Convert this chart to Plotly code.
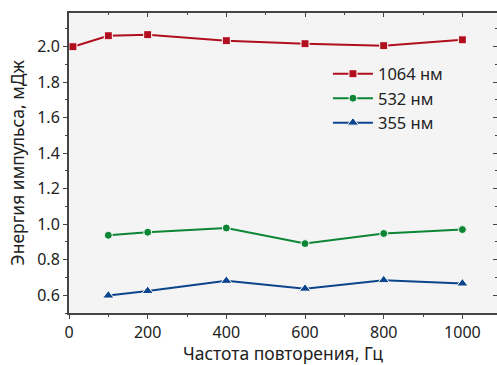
import plotly.graph_objects as go

freq_1064 = [10, 100, 200, 400, 600, 800, 1000]
energy_1064 = [2.000, 2.062, 2.068, 2.034, 2.017, 2.006, 2.039]
freq_532 = [100, 200, 400, 600, 800, 1000]
energy_532 = [0.938, 0.955, 0.979, 0.891, 0.948, 0.970]
freq_355 = [100, 200, 400, 600, 800, 1000]
energy_355 = [0.598, 0.624, 0.681, 0.637, 0.685, 0.666]

series = [
    ("1064 нм", freq_1064, energy_1064, "#B10F1E", "square", 8),
    ("532 нм", freq_532, energy_532, "#0C8535", "circle", 8),
    ("355 нм", freq_355, energy_355, "#0D458C", "triangle-up", 10),
]

FONT = "Noto Sans"
XR = [0, 1088]
YR = [0.5, 2.19]

fig = go.Figure()
for name, x, y, c, sym, sz in series:
    fig.add_trace(go.Scatter(
        x=x, y=y, name=name, mode="lines+markers",
        line=dict(color=c, width=2),
        marker=dict(symbol=sym, size=sz, color=c, line=dict(color="white", width=1)),
    ))

fig.add_trace(go.Scatter(x=[None], y=[None], xaxis="x2", yaxis="y2", showlegend=False, hoverinfo="skip"))

axis_common = dict(showgrid=False, zeroline=False, linecolor="#444", linewidth=2, automargin=False,
                   tickcolor="#444", tickfont=dict(family=FONT, size=16, color="#222"))

fig.update_layout(
    width=497, height=365,
    margin=dict(l=69, r=0, t=13, b=52),
    paper_bgcolor="white", plot_bgcolor="#F4F4F4",
    font=dict(family=FONT, color="#222"),
    xaxis=dict(range=XR, tickvals=[0, 200, 400, 600, 800, 1000], ticks="outside", ticklen=4,
               showline=True,
               minor=dict(dtick=100, tick0=0, ticks="outside", ticklen=2, tickcolor="#444"),
               title=dict(text="Частота повторения, Гц", font=dict(family=FONT, size=17.5, color="#222"), standoff=14),
               **axis_common),
    yaxis=dict(range=YR, tickvals=[0.6, 0.8, 1.0, 1.2, 1.4, 1.6, 1.8, 2.0], tickformat=".1f",
               ticks="outside", ticklen=4, showline=True,
               minor=dict(dtick=0.1, tick0=0, ticks="outside", ticklen=2, tickcolor="#444"),
               title=dict(text="Энергия импульса, мДж", font=dict(family=FONT, size=17.5, color="#222"), standoff=8),
               **axis_common),
    xaxis2=dict(range=XR, overlaying="x", side="top", anchor="y", tickvals=[0, 200, 400, 600, 800, 1000],
                ticks="inside", ticklen=4, showline=True, showticklabels=False,
                minor=dict(dtick=100, tick0=0, ticks="inside", ticklen=2, tickcolor="#444"),
                **axis_common),
    yaxis2=dict(range=YR, overlaying="y", side="right", anchor="x", tickvals=[0.6, 0.8, 1.0, 1.2, 1.4, 1.6, 1.8, 2.0],
                ticks="inside", ticklen=4, showline=False, showticklabels=False,
                minor=dict(dtick=0.1, tick0=0, ticks="inside", ticklen=2, tickcolor="#444"),
                **axis_common),
    legend=dict(x=0.605, y=0.855, xanchor="left", yanchor="top", bgcolor="rgba(0,0,0,0)",
                font=dict(family=FONT, size=16.5, color="#222"), tracegroupgap=0, itemwidth=40),
    showlegend=True,
)

fig.write_html("out.html", config={"displayModeBar": False},
               post_script="document.body.style.margin='0';document.body.style.overflow='hidden';")
